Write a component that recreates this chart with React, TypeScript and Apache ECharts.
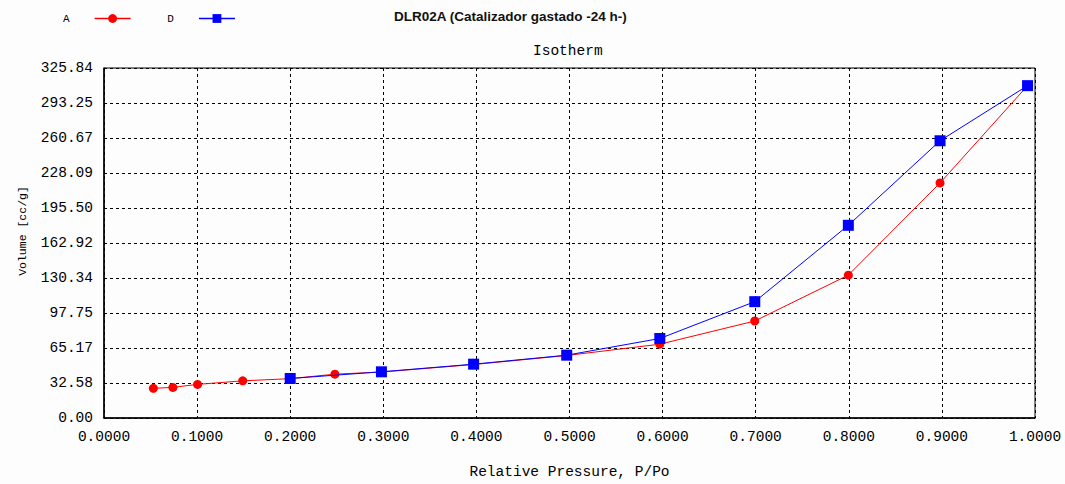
import React, { useEffect, useRef } from "react";
import * as echarts from "echarts";

const titleText = "DLR02A (Catalizador gastado -24 h-)";
const subTitle = "Isotherm";
const xAxisName = "Relative Pressure, P/Po";
const yAxisName = "Volume [cc/g]";

const yTickLabels = ["0.00", "32.58", "65.17", "97.75", "130.34", "162.92", "195.50", "228.09", "260.67", "293.25", "325.84"];

const adsP = [0.053, 0.074, 0.1005, 0.149, 0.2, 0.248, 0.298, 0.397, 0.497, 0.597, 0.699, 0.7995, 0.898, 0.992];
const adsV = [27.6, 28.5, 31.3, 34.6, 36.6, 40.8, 42.8, 49.8, 58.2, 68.7, 90.3, 133.0, 218.8, 309.4];

const desP = [0.992, 0.898, 0.7995, 0.699, 0.597, 0.497, 0.397, 0.298, 0.2];
const desV = [309.4, 258.1, 179.4, 108.3, 74.0, 58.5, 50.1, 43.0, 36.8];

const mono = "Liberation Mono";

export default function App() {
  const ref = useRef<HTMLDivElement>(null);
  useEffect(() => {
    if (!ref.current) return;
    const chart = echarts.init(ref.current, null, { renderer: "svg" });
    const dashed = { color: "#000", type: [3, 3] as any, width: 1 };
    chart.setOption({
      animation: false,
      backgroundColor: "#fdfdfd",
      title: [
        {
          text: titleText,
          left: 389,
          top: 4,
          textStyle: { fontFamily: "Liberation Sans", fontSize: 13.5, fontWeight: "bold", color: "#111" },
        },
        {
          text: subTitle,
          left: 528,
          top: 38,
          textStyle: { fontFamily: mono, fontSize: 14.5, fontWeight: "normal", color: "#000" },
        },
      ],
      legend: {
        left: 58,
        top: 8,
        align: "right",
        itemWidth: 36,
        itemHeight: 11,
        itemGap: 36,
        lineStyle: { width: 1.5 },
        textStyle: { fontFamily: mono, fontSize: 11, color: "#000", padding: [0, 20, 0, 0] },
        data: ["A", "D"],
      },
      graphic: [
        {
          type: "text",
          x: 22,
          y: 231,
          rotation: Math.PI / 2,
          style: {
            text: yAxisName,
            fontFamily: mono,
            fontSize: 11.5,
            fill: "#000",
            textAlign: "center",
            textVerticalAlign: "middle",
          },
        },
      ],
      grid: { left: 104, right: 30, top: 68, bottom: 65, show: true, borderColor: "#000", borderWidth: 1 },
      xAxis: {
        type: "value",
        min: 0,
        max: 1,
        interval: 0.1,
        name: xAxisName,
        nameLocation: "middle",
        nameGap: 46,
        nameTextStyle: { fontFamily: mono, fontSize: 14.5, color: "#000" },
        axisLine: { lineStyle: { color: "#000", width: 1.5 } },
        axisTick: { show: false },
        axisLabel: {
          fontFamily: mono,
          fontSize: 14.5,
          color: "#000",
          margin: 11,
          formatter: (v: number) => v.toFixed(4),
        },
        splitLine: { show: true, lineStyle: dashed },
      },
      yAxis: {
        type: "value",
        min: 0,
        max: 325.84,
        interval: 32.584,
        axisLine: { show: true, lineStyle: { color: "#000", width: 1.5 } },
        axisTick: { show: false },
        axisLabel: {
          fontFamily: mono,
          fontSize: 14.5,
          color: "#000",
          margin: 11,
          formatter: (_v: number, i: number) => yTickLabels[i] ?? "",
        },
        splitLine: { show: true, lineStyle: dashed },
      },
      series: [
        {
          name: "A",
          type: "line",
          data: adsP.map((p, i) => [p, adsV[i]]),
          symbol: "circle",
          symbolSize: 9,
          lineStyle: { color: "#ff0000", width: 1 },
          itemStyle: { color: "#ff0000" },
          z: 2,
        },
        {
          name: "D",
          type: "line",
          data: desP.map((p, i) => [p, desV[i]]),
          symbol: "rect",
          symbolSize: 11,
          lineStyle: { color: "#0000ff", width: 1 },
          itemStyle: { color: "#0000ff" },
          z: 3,
        },
      ],
    });
    return () => chart.dispose();
  }, []);
  return <div ref={ref} style={{ position: "fixed", left: 0, top: 0, width: 1065, height: 484 }} />;
}
